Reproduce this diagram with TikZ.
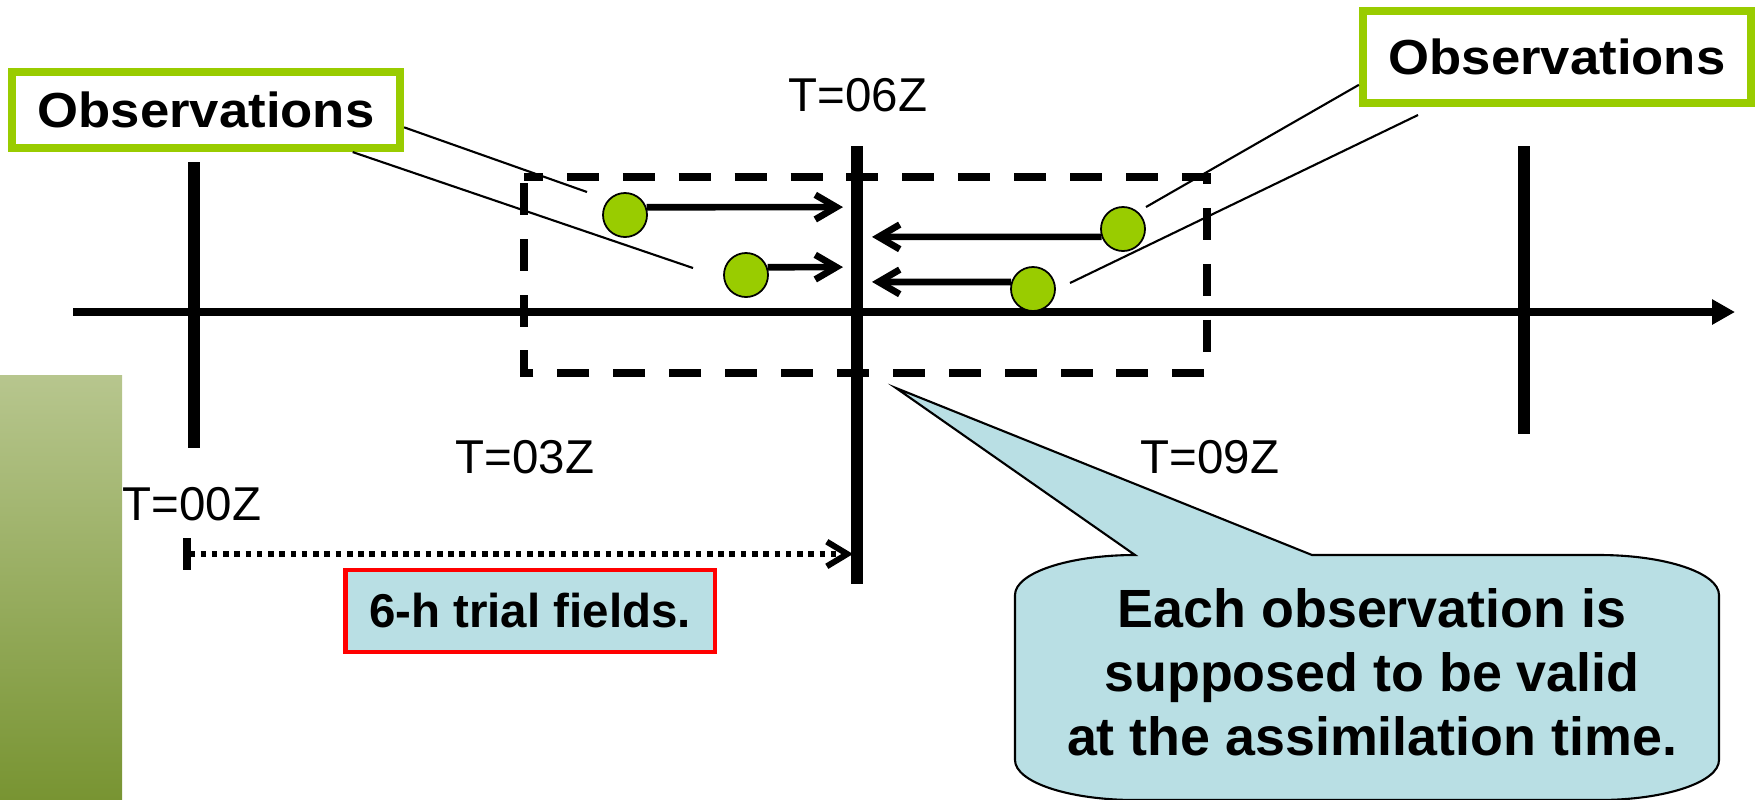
\documentclass[tikz,border=0pt]{standalone}
\usepackage{fontspec}
\usepackage{graphicx}
\setmainfont{Liberation Sans}
\usetikzlibrary{arrows.meta}

\definecolor{obsgreen}{RGB}{153,204,0}
\definecolor{paleblue}{RGB}{185,223,228}
\definecolor{barTop}{RGB}{183,198,142}
\definecolor{barBot}{RGB}{120,148,50}

\tikzset{
  axisline/.style={line width=2.2pt},
  tickline/.style={line width=3.3pt},
  obsbox/.style={draw=obsgreen, line width=2.3pt, fill=white, inner sep=0pt,
    minimum width=3.88cm, font=\fontsize{14}{16}\selectfont\bfseries},
  obsdot/.style={circle, draw=black, line width=0.5pt, fill=obsgreen,
    minimum size=0.44cm, inner sep=0pt},
  shiftarrow/.style={line width=1.9pt, -{Straight Barb[length=6pt,width=7pt]}},
  leader/.style={line width=0.6pt},
  windowbox/.style={line width=2.2pt, dash pattern=on 9.1pt off 6.8pt, dash phase=3.7pt},
  timelabel/.style={font=\fontsize{13.5}{16}\selectfont, inner sep=0pt},
  trialbox/.style={draw=red, line width=1.2pt, fill=paleblue, inner sep=0pt,
    minimum width=3.69cm, minimum height=0.82cm, font=\fontsize{13.5}{16}\selectfont\bfseries},
  notetext/.style={align=center, inner sep=0pt, font=\fontsize{15.3}{18.2}\selectfont\bfseries},
}

\begin{document}
\begin{tikzpicture}[x=0.01cm, y=-0.01cm]
\useasboundingbox (0,0) rectangle (1757,799);

% shaded side bar
\shade[top color=barTop, bottom color=barBot] (0,375) rectangle (122,800);

% time axis and the analysis times
\coordinate (axL) at (73,312);
\coordinate (axR) at (1735,312);
\draw[axisline, -{Triangle[length=6.5pt,width=6.8pt]}] (axL) -- (axR);
\draw[tickline] (194,162) -- (194,448);
\draw[tickline] (857,146) -- (857,584);
\draw[tickline] (1524,146) -- (1524,434);

% assimilation window
\draw[windowbox] (524,177) -- (1207,177) -- (1207,373) -- (524,373) -- cycle;

% time labels
\node[timelabel] (t06) at (858,95) {T=06Z};
\node[timelabel] (t03) at (525,457) {T=03Z};
\node[timelabel] (t09) at (1210,457) {T=09Z};
\node[timelabel] (t00) at (192,504) {T=00Z};

% observations and their shift to the analysis time
\node[obsdot] (c1) at (625,215) {};
\node[obsdot] (c2) at (746,275) {};
\node[obsdot] (c3) at (1123,229) {};
\node[obsdot] (c4) at (1033,289) {};
\coordinate (tip1) at (843,207.1);
\coordinate (tip2) at (843,267.1);
\coordinate (tip3) at (872,236.9);
\coordinate (tip4) at (872,281.9);
\draw[shiftarrow] (c1.20) -- (tip1);
\draw[shiftarrow] (c2.20) -- (tip2);
\draw[shiftarrow] (c3.200) -- (tip3);
\draw[shiftarrow] (c4.162) -- (tip4);

% leader lines to the labels
\coordinate (lA) at (587,192);
\coordinate (lB) at (693,268);
\coordinate (rA) at (1146,207);
\coordinate (rB) at (1070,283);
\coordinate (rBend) at (1418,115);

\node[obsbox, minimum height=0.76cm] (obsL) at (206,110) {\scalebox{1.07}[1]{Observations}};
\node[obsbox, minimum height=0.92cm] (obsR) at (1557,57) {\scalebox{1.07}[1]{Observations}};

\draw[leader] (obsL.-5.6) -- (lA);
\draw[leader] (obsL.-16.6) -- (lB);
\draw[leader] (obsR.188.2) -- (rA);
\draw[leader] (rBend) -- (rB);

% background span
\coordinate (bgS) at (183,554);
\coordinate (bgE) at (853,554);
\draw[line width=1.7pt, dash pattern=on 1.6pt off 1.6pt,
  {Bar[width=9pt,line width=2.4pt]}-{Straight Barb[length=5.8pt,width=7pt]}] (bgS) -- (bgE);
\node[trialbox] (trial) at (530,611) {6-h trial fields.};

% callout
\draw[fill=paleblue, line width=0.6pt]
  (1135,555) -- (896,388) -- (1312,555) -- (1599,555)
  .. controls (1665.3,555) and (1719,572.9) .. (1719,595)
  -- (1719,760)
  .. controls (1719,782.1) and (1665.3,800) .. (1599,800)
  -- (1135,800)
  .. controls (1068.7,800) and (1015,782.1) .. (1015,760)
  -- (1015,595)
  .. controls (1015,572.9) and (1068.7,555) .. (1135,555) -- cycle;
\node[notetext] (note) at (1372,672) {Each observation is\\supposed to be valid\\at the assimilation time.};
\end{tikzpicture}
\end{document}
